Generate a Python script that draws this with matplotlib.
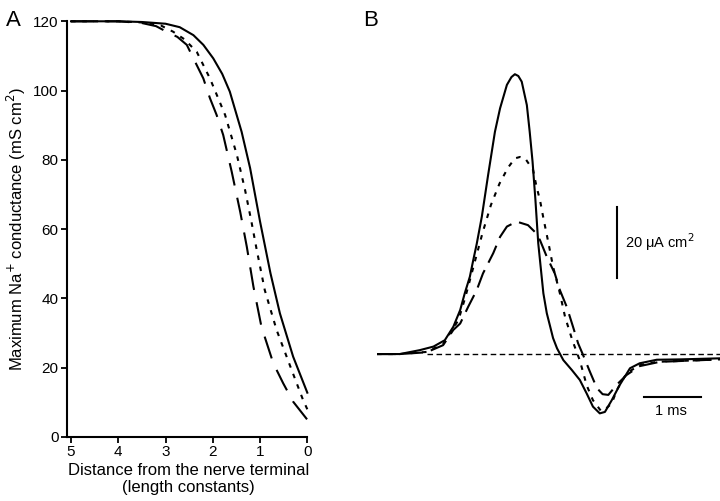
import numpy as np
import matplotlib.pyplot as plt

plt.rcParams['font.family'] = ['Liberation Sans', 'DejaVu Sans']

# panel A: max Na+ conductance vs distance from terminal
dist_solid = [5.0, 4.0, 3.5, 3.0, 2.7, 2.41, 2.2, 1.99, 1.8, 1.64, 1.39, 1.21, 1.0, 0.78, 0.58, 0.30, 0.0]
g_solid = [120, 120, 119.8, 119.3, 118.3, 116.0, 113.2, 109.3, 104.8, 99.7, 88.1, 77.6, 62.2, 47.3, 35.7, 23.2, 12.8]

dist_dot = [5.0, 4.0, 3.4, 3.1, 2.84, 2.6, 2.34, 2.06, 1.74, 1.49, 1.32, 1.18, 1.07, 0.90, 0.65, 0.33, 0.09, 0.0]
g_dot = [120, 120, 119.6, 118.8, 117.0, 114.8, 111.2, 103.5, 93.0, 81.4, 71.5, 62.0, 54.0, 42.4, 30.9, 19.3, 10.7, 8.0]

dist_dash = [5.0, 4.0, 3.5, 3.2, 2.98, 2.75, 2.55, 2.41, 2.20, 2.06, 1.92, 1.78, 1.60, 1.42, 1.28, 1.14, 0.97, 0.72, 0.51, 0.30, 0.0]
g_dash = [120, 120, 119.5, 118.6, 117.0, 115.5, 113.2, 109.3, 103.5, 97.8, 93.0, 87.2, 76.6, 65.0, 54.9, 43.4, 31.8, 21.3, 15.5, 10.2, 5.0]

# panel B: membrane current traces (ms, uA/cm2)
t_solid = [0, 0.40, 0.75, 0.99, 1.19, 1.34, 1.46, 1.54, 1.63, 1.69, 1.75, 1.84, 1.95, 2.07, 2.16, 2.28, 2.36, 2.42,
           2.48, 2.54, 2.63, 2.68, 2.73, 2.78, 2.83, 2.92, 2.98, 3.04, 3.09, 3.16, 3.27, 3.42, 3.56, 3.68, 3.79, 3.91,
           4.00, 4.12, 4.26, 4.44, 4.61, 4.91, 5.32, 6.02]
i_solid = [0, 0, 1.1, 2.1, 3.9, 7.7, 12.4, 17.1, 21.8, 26.5, 31.0, 38.7, 50.4, 62.6, 69.2, 75.8, 78.0, 78.8,
           78.3, 76.7, 70.1, 62.6, 54.2, 43.5, 31.2, 17.1, 11.5, 7.7, 4.5, 1.6, -1.7, -4.5, -7.3, -11.1, -14.8, -16.7,
           -16.3, -13.0, -8.7, -4.0, -2.6, -1.6, -1.5, -1.2]

t_dot = [0, 0.40, 0.87, 1.16, 1.43, 1.55, 1.70, 1.85, 2.00, 2.15, 2.30, 2.42, 2.51, 2.60, 2.74,
         2.80, 2.86, 2.92, 3.01, 3.09, 3.21, 3.30, 3.43, 3.56, 3.68, 3.79, 3.93, 4.00, 4.12, 4.21,
         4.38, 4.61, 4.91, 6.02]
i_dot = [0, 0, 0.6, 2.8, 9.6, 16.0, 25.0, 34.0, 42.0, 48.0, 52.5, 55.1, 55.5, 55.1, 51.8,
         47.1, 43.4, 38.3, 31.2, 24.6, 17.1, 10.5, 3.8, -1.8, -8.8, -13.0, -16.0, -15.6, -13.9, -10.1,
         -5.4, -3.1, -2.2, -1.5]

t_dash = [0, 0.40, 0.87, 1.16, 1.34, 1.46, 1.60, 1.75, 1.86, 2.04, 2.16, 2.28, 2.45, 2.65, 2.77, 2.86, 2.98,
          3.12, 3.21, 3.33, 3.44, 3.53, 3.61, 3.74, 3.86, 3.96, 4.06, 4.21, 4.38, 4.61, 4.96, 6.02]
i_dash = [0, 0, 0.5, 2.5, 6.8, 8.6, 13.3, 18.0, 22.7, 28.4, 33.0, 35.9, 37.3, 36.3, 34.4, 32.1, 27.4,
          22.7, 18.0, 13.3, 7.7, 3.0, 0, -5.1, -9.6, -11.3, -11.5, -8.6, -5.9, -3.4, -2.2, -1.5]

W, H = 720, 501
fig = plt.figure(figsize=(W / 100, H / 100), dpi=100)

lw = 1.5
dash_long = (0, (11, 6))
dots = (0, (2.2, 3.2))

# ---- A ----
axA = fig.add_axes([67 / W, 1 - 437 / H, 243 / W, 415.7 / H])
axA.plot(dist_solid, g_solid, color='black', lw=lw, clip_on=False)
axA.plot(dist_dot, g_dot, color='black', lw=lw, ls=dots, clip_on=False)
axA.plot(dist_dash, g_dash, color='black', lw=lw, ls=dash_long, clip_on=False)
axA.set_xlim(5.085, -0.057)
axA.set_ylim(0, 120)
axA.set_xticks([5, 4, 3, 2, 1, 0])
axA.set_yticks([0, 20, 40, 60, 80, 100, 120])
for s in ['top', 'right']:
    axA.spines[s].set_visible(False)
for s in ['left', 'bottom']:
    axA.spines[s].set_linewidth(1.5)
axA.spines['bottom'].set_bounds(5.085, 0)
axA.tick_params(direction='out', length=4, width=1.3, labelsize=11, pad=2)
axA.set_xlabel('Distance from the nerve terminal\n(length constants)', fontsize=12, labelpad=3, linespacing=1.1)
axA.set_ylabel('Maximum Na$^{+}$ conductance (mS cm$^{2}$)', fontsize=12, labelpad=4)
fig.text(6 / W, 1 - 20 / H, 'A', fontsize=16, va='center', ha='left')

# ---- B ----
axB = fig.add_axes([377 / W, 1 - 440 / H, 343 / W, 380 / H])
axB.plot(t_solid, i_solid, color='black', lw=lw)
axB.plot(t_dot, i_dot, color='black', lw=lw, ls=dots)
axB.plot(t_dash, i_dash, color='black', lw=lw, ls=(0, (9, 4)))
axB.plot([0.88, 6.02], [0, 0], color='black', lw=1.0, ls=(0, (4, 2.5)))
axB.set_xlim(0, 6.02)
axB.set_ylim(-24.2, 82.8)
axB.axis('off')
# scale bars
axB.plot([4.21, 4.21], [21.4, 41.4], color='black', lw=1.5)
axB.text(4.36, 31.5, '20 μA cm$^{2}$', fontsize=10.5, va='center', ha='left')
axB.plot([4.68, 5.68], [-12.1, -12.1], color='black', lw=1.5)
axB.text(5.16, -14.0, '1 ms', fontsize=10.5, va='top', ha='center')
fig.text(363 / W, 1 - 20 / H, 'B', fontsize=16, va='center', ha='left')

fig.savefig('out.png', dpi=100)
